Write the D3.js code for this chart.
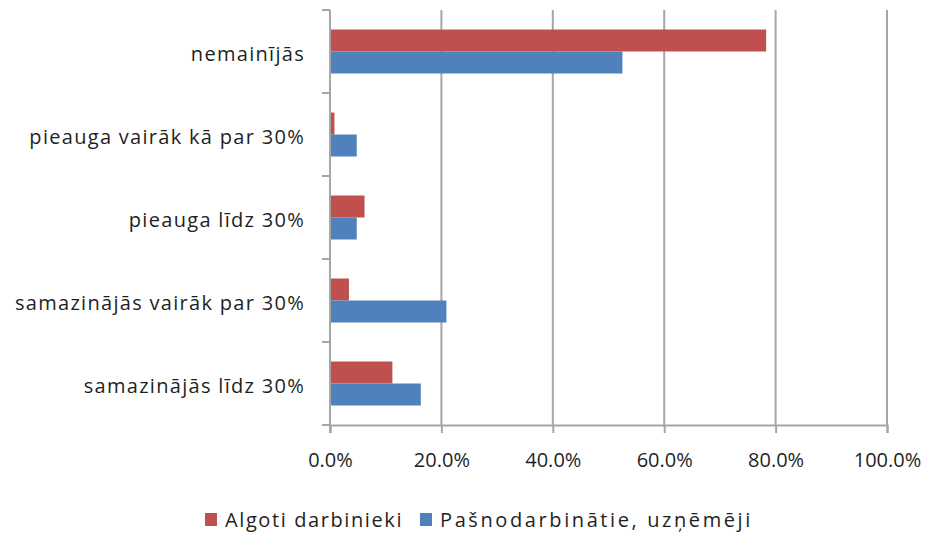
<!DOCTYPE html>
<html>
<head>
<meta charset="utf-8">
<script src="https://cdn.jsdelivr.net/npm/d3@7"></script>
<style>
  body { margin: 0; background: #fff; }
  text { font-family: "Open Sans", sans-serif; fill: #1f1f1f; }
</style>
</head>
<body>
<svg id="chart"></svg>
<script>
var categories = ["nemainījās", "pieauga vairāk kā par 30%", "pieauga līdz 30%", "samazinājās vairāk par 30%", "samazinājās līdz 30%"];
var seriesNames = ["Algoti darbinieki", "Pašnodarbinātie, uzņēmēji"];
var algoti = [78.3, 0.8, 6.2, 3.4, 11.2];
var pasnodarbinatie = [52.5, 4.8, 4.8, 20.9, 16.3];
var xTicks = [0, 20, 40, 60, 80, 100];
var colors = ["#C0504D", "#4F81BD"];

var width = 925, height = 533,
    plotLeft = 330, plotRight = 887, plotTop = 10, plotBottom = 425;

var svg = d3.select("#chart").attr("width", width).attr("height", height);

var x = d3.scaleLinear().domain([0, 100]).range([plotLeft, plotRight]);
var y = d3.scaleBand().domain(categories).range([plotTop, plotBottom]).paddingInner(0.47).paddingOuter(0.235);
var ySub = d3.scaleBand().domain([0, 1]).range([0, y.bandwidth()]);

// gridlines
svg.append("g").selectAll("line").data(xTicks.slice(1)).enter().append("line")
    .attr("x1", function(d) { return x(d); }).attr("x2", function(d) { return x(d); })
    .attr("y1", plotTop).attr("y2", plotBottom)
    .attr("stroke", "#a6a6a6").attr("stroke-width", 2);

// bars
var rows = categories.map(function(c, i) { return { cat: c, vals: [algoti[i], pasnodarbinatie[i]] }; });
var g = svg.append("g").selectAll("g").data(rows).enter().append("g")
    .attr("transform", function(d) { return "translate(0," + y(d.cat) + ")"; });
g.selectAll("rect").data(function(d) { return d.vals; }).enter().append("rect")
    .attr("x", x(0))
    .attr("y", function(d, i) { return ySub(i); })
    .attr("width", function(d) { return x(d) - x(0); })
    .attr("height", ySub.bandwidth())
    .attr("fill", function(d, i) { return colors[i]; });

// y axis line and ticks
var bandEdges = categories.map(function(c) { return y(c) - y.step() * y.paddingInner() / 2; }).concat([plotBottom]);
svg.append("line").attr("x1", plotLeft).attr("x2", plotLeft).attr("y1", plotTop).attr("y2", plotBottom + 8)
    .attr("stroke", "#a6a6a6").attr("stroke-width", 2);
svg.append("g").selectAll("line").data(bandEdges).enter().append("line")
    .attr("x1", plotLeft - 8).attr("x2", plotLeft)
    .attr("y1", function(d) { return d; }).attr("y2", function(d) { return d; })
    .attr("stroke", "#a6a6a6").attr("stroke-width", 2);

// x axis
var xAxis = svg.append("g").attr("transform", "translate(0," + plotBottom + ")")
    .call(d3.axisBottom(x).tickValues(xTicks).tickSize(8).tickPadding(20)
        .tickFormat(function(d) { return d.toFixed(1) + "%"; }));
xAxis.select(".domain").attr("stroke", "#a6a6a6").attr("stroke-width", 2);
xAxis.selectAll(".tick line").attr("stroke", "#a6a6a6").attr("stroke-width", 2);
xAxis.selectAll(".tick text").attr("font-size", 20).attr("fill", "#1f1f1f")
    .attr("font-family", "Open Sans, sans-serif");

// category labels
svg.append("g").selectAll("text").data(categories).enter().append("text")
    .attr("x", 305)
    .attr("y", function(d) { return y(d) + y.bandwidth() / 2 + 2; })
    .attr("dy", "0.35em")
    .attr("text-anchor", "end")
    .attr("font-size", 20)
    .attr("letter-spacing", 1.3)
    .text(function(d) { return d; });

// legend
var legendX = [205, 420];
var lg = svg.append("g").selectAll("g").data(seriesNames).enter().append("g")
    .attr("transform", function(d, i) { return "translate(" + legendX[i] + ",513)"; });
lg.append("rect").attr("width", 12).attr("height", 13).attr("fill", function(d, i) { return colors[i]; });
lg.append("text").attr("x", 20).attr("y", 7).attr("dy", "0.35em").attr("font-size", 20)
    .attr("letter-spacing", function(d, i) { return i === 0 ? 1.6 : 2.6; })
    .text(function(d) { return d; });
</script>
</body>
</html>
